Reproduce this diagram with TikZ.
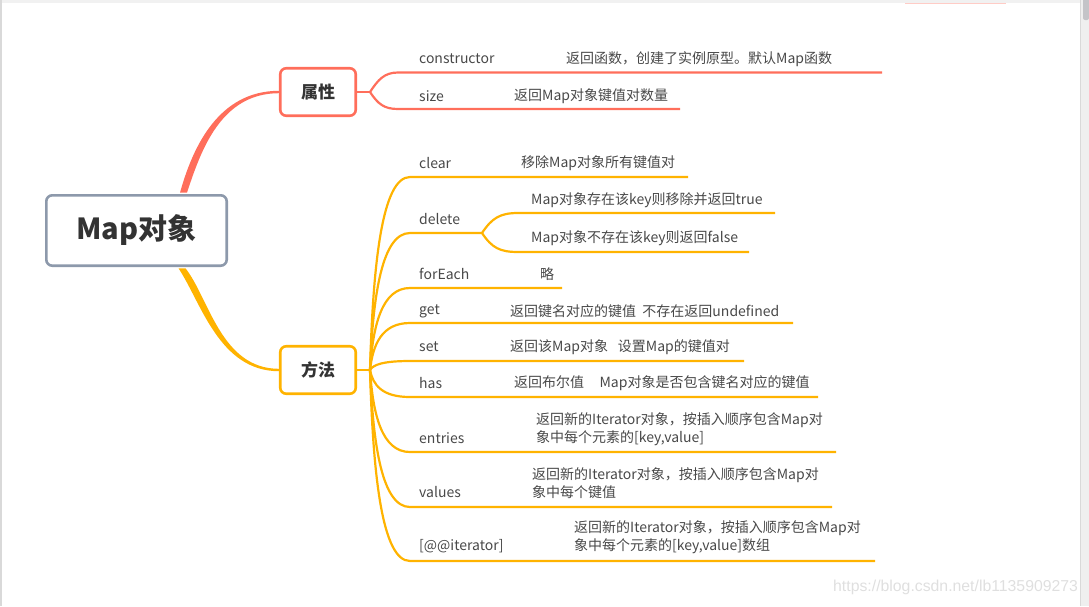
\documentclass[tikz,border=0pt]{standalone}
\usepackage{fontspec}
\setmainfont{Noto Sans CJK SC}
\newfontfamily\wmfont{Liberation Sans}

\definecolor{propcol}{HTML}{FF6E5B}
\definecolor{methcol}{HTML}{FFB300}
\definecolor{rootcol}{HTML}{8D99AB}
\definecolor{txtgray}{HTML}{484848}
\definecolor{titlecol}{HTML}{333333}
\definecolor{framegray}{HTML}{F1F1F1}
\definecolor{edgegray}{HTML}{D9D9D9}
\definecolor{scrollgray}{HTML}{EFEFEF}
\definecolor{thumbgray}{HTML}{C4C4C8}

\tikzset{
  topic/.style={rectangle, rounded corners=6pt, draw, fill=white,
    line width=2.6pt, text=titlecol, inner sep=0pt,
    font=\bfseries\fontsize{17}{20}\selectfont,
    minimum width=75.5pt, minimum height=47.5pt},
  lbl/.style={anchor=west, inner sep=0pt, text=txtgray, align=left,
    font=\fontsize{14}{18}\selectfont},
  propline/.style={draw=propcol, line width=2.2pt},
  methline/.style={draw=methcol, line width=2.2pt}
}

\begin{document}
\begin{tikzpicture}[x=1pt,y=-1pt]
\useasboundingbox (0,0) rectangle (1089,606);
% window frame
\fill[framegray] (0,0) rectangle (1089,3);
\fill[edgegray] (0,0) rectangle (1.5,606);
\fill[scrollgray] (1080,0) rectangle (1089,606);
\draw[edgegray, line width=1pt] (1080.5,0) -- (1080.5,606);
\fill[thumbgray, rounded corners=2pt] (1083,-3) rectangle (1089,20);
\draw[propcol!35, line width=0.8pt] (905,3) -- (1006,3);

% topics
\node[topic, draw=rootcol, minimum width=180.4pt, minimum height=70.4pt,
	font=\bfseries\fontsize{29}{34}\selectfont] (root) at (136.5,230.5) {Map对象};
\node[topic, draw=propcol] (prop) at (318,92) {属性};
\node[topic, draw=methcol] (meth) at (318,370) {方法};

% main branches
\fill[propcol] ([xshift=43.5pt,yshift=1.3pt]root.north) .. controls (193,146) and (219,90.8) .. ([yshift=1.2pt]prop.west)
	-- ([yshift=-1.2pt]prop.west) .. controls (221,93.2) and (201,150) .. ([xshift=50.5pt,yshift=1.3pt]root.north) -- cycle;
\fill[methcol] ([xshift=42pt,yshift=-1.3pt]root.south) .. controls (201,302) and (219,371.2) .. ([yshift=-1.2pt]meth.west)
	-- ([yshift=1.2pt]meth.west) .. controls (221,368.8) and (209,298) .. ([xshift=49pt,yshift=-1.3pt]root.south) -- cycle;

% 属性
\coordinate (hubP) at (370,92);
\coordinate (constructorE) at (882,72.5);
\coordinate (sizeE) at (680,109);
\draw[propline] (prop.east) -- (hubP);
\draw[propline] (hubP) .. controls (378,80) and (384,72.5) .. (398,72.5) -- (constructorE);
\draw[propline] (hubP) .. controls (378,104) and (384,109) .. (398,109) -- (sizeE);
\node[lbl] (constructor) at (419,59) {constructor};
\node[lbl] (constructorD) at (566,59) {返回函数，创建了实例原型。默认Map函数};
\node[lbl] (size) at (419,96) {size};
\node[lbl] (sizeD) at (514,96) {返回Map对象键值对数量};

% 方法
\coordinate (hubM) at (370,370);
\coordinate (clearE) at (688,177);
\coordinate (forkD) at (482,233);
\coordinate (deleteAE) at (775,213);
\coordinate (deleteBE) at (749,252);
\coordinate (forEachE) at (562,288);
\coordinate (getE) at (793,323);
\coordinate (setE) at (744,361);
\coordinate (hasE) at (818,397);
\coordinate (entriesE) at (836,452);
\coordinate (valuesE) at (832,507);
\coordinate (iteratorE) at (875,561);
\draw[methline] (meth.east) -- (hubM);
\draw[methline] (hubM) .. controls (373,264) and (382,177) .. (410,177) -- (clearE);
\draw[methline] (hubM) .. controls (373,295) and (382,233) .. (410,233) -- (forkD);
\draw[methline] (forkD) .. controls (492,218) and (500,213) .. (518,213) -- (deleteAE);
\draw[methline] (forkD) .. controls (492,248) and (500,252) .. (518,252) -- (deleteBE);
\draw[methline] (hubM) .. controls (373,325) and (382,288) .. (410,288) -- (forEachE);
\draw[methline] (hubM) .. controls (373,344) and (382,323) .. (410,323) -- (getE);
\draw[methline] (hubM) .. controls (373,365) and (382,361) .. (410,361) -- (setE);
\draw[methline] (hubM) .. controls (373,385) and (382,397) .. (410,397) -- (hasE);
\draw[methline] (hubM) .. controls (373,415) and (382,452) .. (410,452) -- (entriesE);
\draw[methline] (hubM) .. controls (373,445) and (382,507) .. (410,507) -- (valuesE);
\draw[methline] (hubM) .. controls (373,475) and (382,561) .. (410,561) -- (iteratorE);

\node[lbl] (clear) at (419,163) {clear};
\node[lbl] (clearD) at (521,163) {移除Map对象所有键值对};
\node[lbl] (delete) at (419,219) {delete};
\node[lbl] (deleteA) at (531,200) {Map对象存在该key则移除并返回true};
\node[lbl] (deleteB) at (531,238) {Map对象不存在该key则返回false};
\node[lbl] (forEach) at (419,274) {forEach};
\node[lbl] (forEachD) at (540,274) {略};
\node[lbl] (get) at (419,311) {get};
\node[lbl] (getD) at (510,311) {返回键名对应的键值\hspace{0.45em}不存在返回undefined};
\node[lbl] (set) at (419,347) {set};
\node[lbl] (setD) at (510,347) {返回该Map对象\hspace{0.7em}设置Map的键值对};
\node[lbl] (has) at (419,383) {has};
\node[lbl] (hasD) at (514,383) {返回布尔值\hspace{1.1em}Map对象是否包含键名对应的键值};
\node[lbl] (entries) at (419,438) {entries};
\node[lbl] (entriesD) at (536,429) {返回新的Iterator对象，按插入顺序包含Map对\\象中每个元素的[key,value]};
\node[lbl] (values) at (419,492) {values};
\node[lbl] (valuesD) at (532,483) {返回新的Iterator对象，按插入顺序包含Map对\\象中每个键值};
\node[lbl] (iterator) at (419,546) {[@@iterator]};
\node[lbl] (iteratorD) at (574,537) {返回新的Iterator对象，按插入顺序包含Map对\\象中每个元素的[key,value]数组};

% watermark
\node[anchor=west, inner sep=0pt, text=gray!25, font=\wmfont\fontsize{15.8}{18}\selectfont] (wm) at (833,587) {https://blog.csdn.net/lb1135909273};
\end{tikzpicture}
\end{document}
